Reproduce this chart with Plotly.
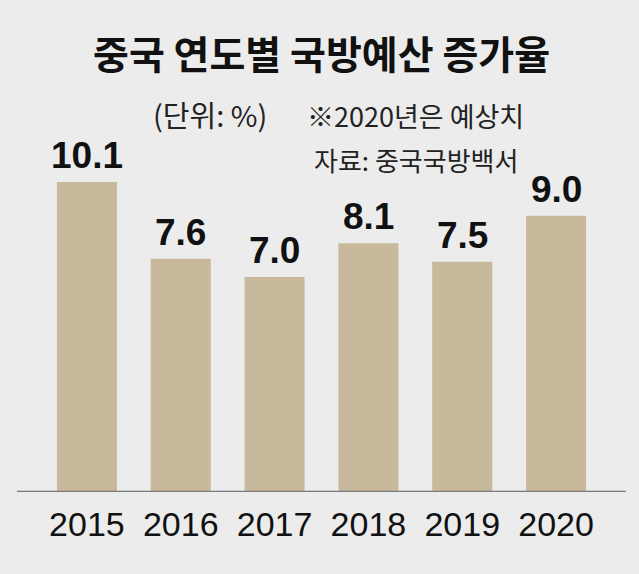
import plotly.graph_objects as go

years = ["2015", "2016", "2017", "2018", "2019", "2020"]
values = [10.1, 7.6, 7.0, 8.1, 7.5, 9.0]
labels = ["10.1", "7.6", "7.0", "8.1", "7.5", "9.0"]

title_text = "중국 연도별 국방예산 증가율"
unit_text = "(단위: %)"
note_text = "※2020년은 예상치"
source_text = "자료: 중국국방백서"

W, H = 639, 574
L, R, T, B = 40, 36, 150, 82
plot_h = H - T - B
px_per_unit = 30.7
ymax = plot_h / px_per_unit

def py(y):
    return (H - B - y) / plot_h

def px(x):
    return (x - L) / (W - L - R)

BG = "#ececec"
BAR = "#c9b99c"
NUM_FONT = "Liberation Sans, Arial, sans-serif"
KR_FONT = "Noto Sans CJK KR, sans-serif"

fig = go.Figure()
fig.add_trace(go.Bar(x=years, y=values, marker=dict(color=BAR, line=dict(width=0)),
                     hoverinfo="skip"))

for i, (v, lab) in enumerate(zip(values, labels)):
    fig.add_annotation(x=i, y=v, xref="x", yref="y", text=lab, showarrow=False,
                       yanchor="bottom", yshift=4,
                       font=dict(family=NUM_FONT, size=37, color="#111111", weight="bold"))

fig.add_annotation(x=0.5, y=py(52), xref="paper", yref="paper", text=title_text,
                   showarrow=False, xanchor="center", yanchor="middle",
                   font=dict(family=KR_FONT, size=39, color="#111111", weight="bold"))
fig.add_annotation(x=px(151), y=py(114), xref="paper", yref="paper", text=unit_text,
                   showarrow=False, xanchor="left", yanchor="middle",
                   font=dict(family=KR_FONT, size=29, color="#222222"))
fig.add_annotation(x=px(305), y=py(115), xref="paper", yref="paper", text=note_text,
                   showarrow=False, xanchor="left", yanchor="middle",
                   font=dict(family=KR_FONT, size=27, color="#222222"))
fig.add_annotation(x=px(312), y=py(159), xref="paper", yref="paper", text=source_text,
                   showarrow=False, xanchor="left", yanchor="middle",
                   font=dict(family=KR_FONT, size=26, color="#222222"))

fig.add_shape(type="line", xref="paper", yref="y", x0=px(17), x1=px(626), y0=0, y1=0,
              line=dict(color="#7a7a7a", width=2.5))

fig.update_layout(
    width=W, height=H,
    margin=dict(l=L, r=R, t=T, b=B, pad=0),
    paper_bgcolor=BG, plot_bgcolor=BG,
    bargap=0.36,
    showlegend=False,
    xaxis=dict(type="category", range=[-0.5, 5.5], showgrid=False, zeroline=False,
               showline=False, ticks="", ticklabelstandoff=9,
               tickfont=dict(family=NUM_FONT, size=34, color="#111111")),
    yaxis=dict(range=[0, ymax], visible=False, showgrid=False, zeroline=False),
)

fig.write_html("out.html", config={"displayModeBar": False},
               post_script="document.body.style.margin='0';document.body.style.overflow='hidden';")
